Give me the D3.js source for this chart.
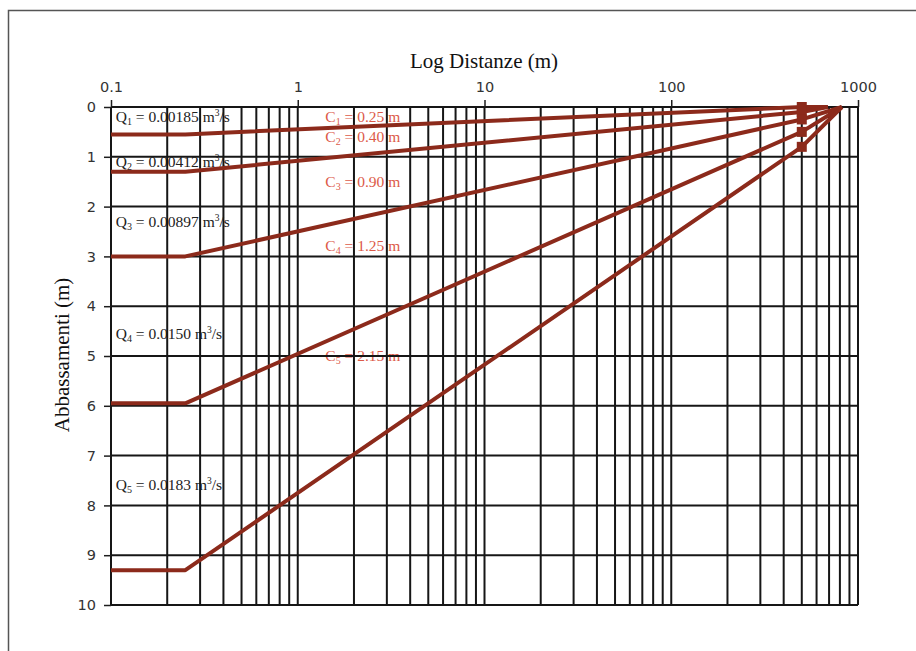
<!DOCTYPE html>
<html>
<head>
<meta charset="utf-8">
<script src="https://cdn.jsdelivr.net/npm/d3@7"></script>
<style>
  body { margin: 0; background: #fff; }
</style>
</head>
<body>
<svg id="chart" width="916" height="651"></svg>
<script>
// data
const flowRates = ["0.00185", "0.00412", "0.00897", "0.0150", "0.0183"];
const cValues = ["0.25", "0.40", "0.90", "1.25", "2.15"];
const startDistance = 0.1;
const wellRadius = 0.25;
const wellDrawdown = [0.55, 1.3, 3.0, 5.95, 9.3];
const obsDistance = 500;
const obsDrawdown = [0.0, 0.1, 0.25, 0.5, 0.8];
const influenceRadius = [690, 690, 820, 820, 820];
const xTickLabels = [0.1, 1, 10, 100, 1000];
const yTickLabels = [0, 1, 2, 3, 4, 5, 6, 7, 8, 9, 10];

// where the annotations sit (distance, drawdown)
const qLabelAt = [[0.106, 0.2], [0.106, 1.1], [0.106, 2.3], [0.106, 4.55], [0.106, 7.6]];
const cLabelAt = [[2.23, 0.2], [2.23, 0.6], [2.23, 1.5], [2.23, 2.8], [2.23, 5.0]];

const lineColor = "#8c2a1b";
const labelRed = "#dc5a48";

const svg = d3.select("#chart");

// outer frame, runs off the page on the right and bottom
svg.append("rect")
  .attr("x", 8.5).attr("y", 10.5)
  .attr("width", 1000).attr("height", 1000)
  .attr("fill", "none")
  .attr("stroke", "#555")
  .attr("stroke-width", 1.5);

const x = d3.scaleLog().domain([0.1, 1000]).range([111, 858]);
const y = d3.scaleLinear().domain([0, 10]).range([107, 605]);

const serif = "'Liberation Serif', 'Times New Roman', serif";

// annotations go under the grid, like in the original
const qText = svg.append("g").selectAll("text")
  .data(flowRates)
  .join("text")
    .attr("x", (d, i) => x(qLabelAt[i][0]))
    .attr("y", (d, i) => y(qLabelAt[i][1]) + 5)
    .attr("font-family", serif)
    .attr("font-size", 15.5)
    .attr("fill", "#222");
qText.append("tspan").text("Q");
qText.append("tspan").attr("font-size", 10).attr("dy", 3).text((d, i) => i + 1);
qText.append("tspan").attr("dy", -3).text(d => " = " + d + " m");
qText.append("tspan").attr("font-size", 9.5).attr("dy", -6).text("3");
qText.append("tspan").attr("dy", 6).text("/s");

const cText = svg.append("g").selectAll("text")
  .data(cValues)
  .join("text")
    .attr("x", (d, i) => x(cLabelAt[i][0]))
    .attr("y", (d, i) => y(cLabelAt[i][1]) + 5)
    .attr("text-anchor", "middle")
    .attr("font-family", serif)
    .attr("font-size", 15.5)
    .attr("fill", labelRed);
cText.append("tspan").text("C");
cText.append("tspan").attr("font-size", 10).attr("dy", 3).text((d, i) => i + 1);
cText.append("tspan").attr("dy", -3).text(d => " = " + d + " m");

// grid
const grid = svg.append("g")
  .attr("stroke", "#161616")
  .attr("stroke-width", 2);

grid.selectAll("line.v")
  .data(x.ticks())
  .join("line")
    .attr("class", "v")
    .attr("x1", d => x(d)).attr("x2", d => x(d))
    .attr("y1", y(0)).attr("y2", y(10));

grid.selectAll("line.h")
  .data(yTickLabels)
  .join("line")
    .attr("class", "h")
    .attr("x1", x(0.1)).attr("x2", x(1000))
    .attr("y1", d => y(d)).attr("y2", d => y(d));

// axes
const xAxis = d3.axisTop(x)
  .tickValues(xTickLabels)
  .tickFormat(d => d)
  .tickSize(7)
  .tickPadding(8);
const gx = svg.append("g")
  .attr("transform", `translate(0,${y(0)})`)
  .call(xAxis);

const yAxis = d3.axisLeft(y)
  .tickValues(yTickLabels)
  .tickSize(7)
  .tickPadding(8);
const gy = svg.append("g")
  .attr("transform", `translate(${x(0.1)},0)`)
  .call(yAxis);

[gx, gy].forEach(g => {
  g.select(".domain").remove();
  g.selectAll(".tick line").attr("stroke", "#1e1e1e").attr("stroke-width", 1.5);
  g.selectAll(".tick text")
    .attr("font-family", "'DejaVu Sans', sans-serif")
    .attr("font-size", 14.5)
    .attr("fill", "#333");
});

svg.append("text")
  .attr("x", 484).attr("y", 68)
  .attr("text-anchor", "middle")
  .attr("font-family", serif)
  .attr("font-size", 21)
  .attr("fill", "#111")
  .text("Log Distanze (m)");

svg.append("text")
  .attr("transform", "translate(69,355) rotate(-90)")
  .attr("text-anchor", "middle")
  .attr("font-family", serif)
  .attr("font-size", 21)
  .attr("fill", "#111")
  .text("Abbassamenti (m)");

// drawdown curves
const series = wellDrawdown.map((s, i) => [
  [startDistance, s],
  [wellRadius, s],
  [obsDistance, obsDrawdown[i]],
  [influenceRadius[i], 0]
]);

const line = d3.line()
  .x(d => x(d[0]))
  .y(d => y(d[1]));

svg.append("g")
  .selectAll("path")
  .data(series)
  .join("path")
    .attr("d", line)
    .attr("fill", "none")
    .attr("stroke", lineColor)
    .attr("stroke-width", 4)
    .attr("stroke-linejoin", "round");

svg.append("g")
  .selectAll("rect")
  .data(obsDrawdown)
  .join("rect")
    .attr("x", x(obsDistance) - 5)
    .attr("y", d => y(d) - 5)
    .attr("width", 10)
    .attr("height", 10)
    .attr("fill", lineColor);
</script>
</body>
</html>
